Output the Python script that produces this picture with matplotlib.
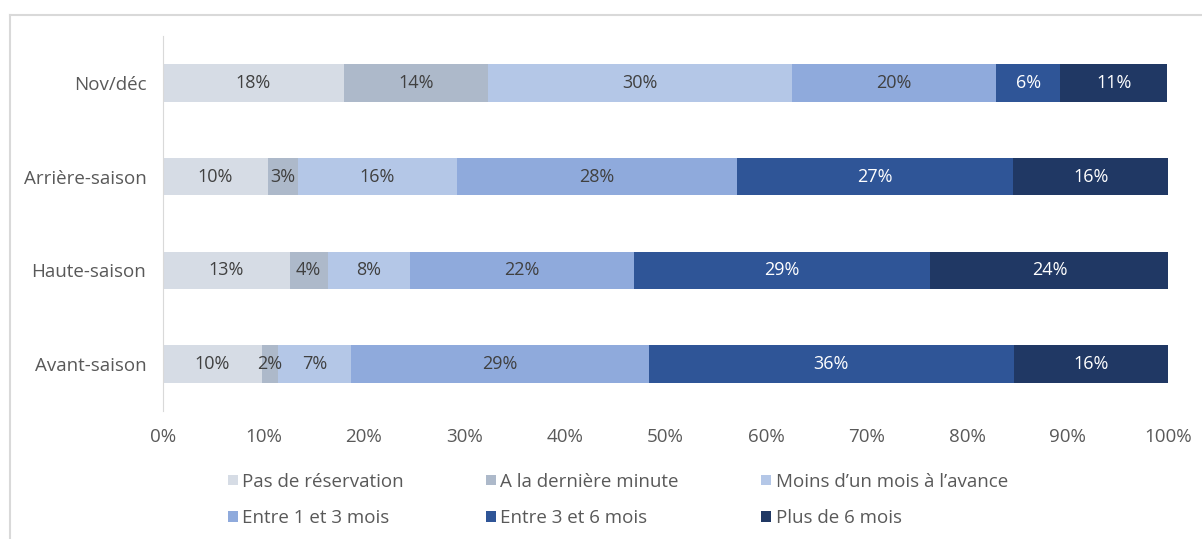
import matplotlib.pyplot as plt
import numpy as np
from matplotlib.lines import Line2D

plt.rcParams['font.family'] = ['Open Sans', 'DejaVu Sans']

# periods, bottom to top
periods = ['Avant-saison', 'Haute-saison', 'Arrière-saison', 'Nov/déc']

series_names = ['Pas de réservation', 'A la dernière minute', 'Moins d\u2019un mois à l\u2019avance',
                'Entre 1 et 3 mois', 'Entre 3 et 6 mois', 'Plus de 6 mois']

# shares (%) per period, same order as periods
pas_de_resa = [9.85, 12.6, 10.4, 18.0]
derniere_minute = [1.6, 3.8, 3.0, 14.3]
moins_un_mois = [7.3, 8.2, 15.9, 30.3]
entre_1_3 = [29.6, 22.3, 27.8, 20.3]
entre_3_6 = [36.3, 29.4, 27.5, 6.4]
plus_6 = [15.4, 23.8, 15.4, 10.6]

# labels shown in bars
labels = [
    ['10%', '13%', '10%', '18%'],
    ['2%', '4%', '3%', '14%'],
    ['7%', '8%', '16%', '30%'],
    ['29%', '22%', '28%', '20%'],
    ['36%', '29%', '27%', '6%'],
    ['16%', '24%', '16%', '11%'],
]

colors = ['#d6dce5', '#adb9ca', '#b4c7e7', '#8faadc', '#2f5597', '#203864']
text_colors = ['#404040', '#404040', '#404040', '#404040', 'white', 'white']

data = [pas_de_resa, derniere_minute, moins_un_mois, entre_1_3, entre_3_6, plus_6]

fig = plt.figure(figsize=(12.02, 5.39), dpi=100)
ax = fig.add_axes([163 / 1202, 1 - 411 / 539, (1168 - 163) / 1202, 375 / 539])

y = np.arange(len(periods))
left = np.zeros(len(periods))
for vals, name, c, tc, labs in zip(data, series_names, colors, text_colors, labels):
    vals = np.array(vals)
    ax.barh(y, vals, left=left, height=0.4, color=c, label=name)
    for yi, v, l, lab in zip(y, vals, left, labs):
        ax.text(l + v / 2, yi, lab, ha='center', va='center', color=tc, fontsize=13)
    left += vals

ax.set_xlim(0, 100)
ax.set_ylim(-0.5, 3.5)
ax.set_xticks(np.arange(0, 101, 10))
ax.set_xticklabels([f'{t}%' for t in range(0, 101, 10)])
ax.set_yticks(y)
ax.set_yticklabels(periods)
ax.tick_params(axis='both', length=0, labelcolor='#595959', labelsize=13.5)
ax.tick_params(axis='x', pad=12)
ax.tick_params(axis='y', pad=12)
for s in ['top', 'right', 'bottom']:
    ax.spines[s].set_visible(False)
ax.spines['left'].set_color('#d9d9d9')

# chart frame
fig.add_artist(Line2D([10 / 1202, 10 / 1202], [0, 1 - 15 / 539], color='#d9d9d9', lw=1.5))
fig.add_artist(Line2D([10 / 1202, 1], [1 - 15 / 539, 1 - 15 / 539], color='#d9d9d9', lw=1.5))

# legend, filled row by row
handles, lbls = ax.get_legend_handles_labels()
order = [0, 3, 1, 4, 2, 5]
fig.legend([handles[i] for i in order], [lbls[i] for i in order], ncol=3, loc='center',
           bbox_to_anchor=(618 / 1202, 1 - 500 / 539),
           frameon=False, fontsize=13.5, handlelength=0.5, handleheight=0.5, handletextpad=0.25,
           columnspacing=4.4, labelcolor='#595959', labelspacing=1.0, borderpad=0)

plt.savefig('out.png', dpi=100)
